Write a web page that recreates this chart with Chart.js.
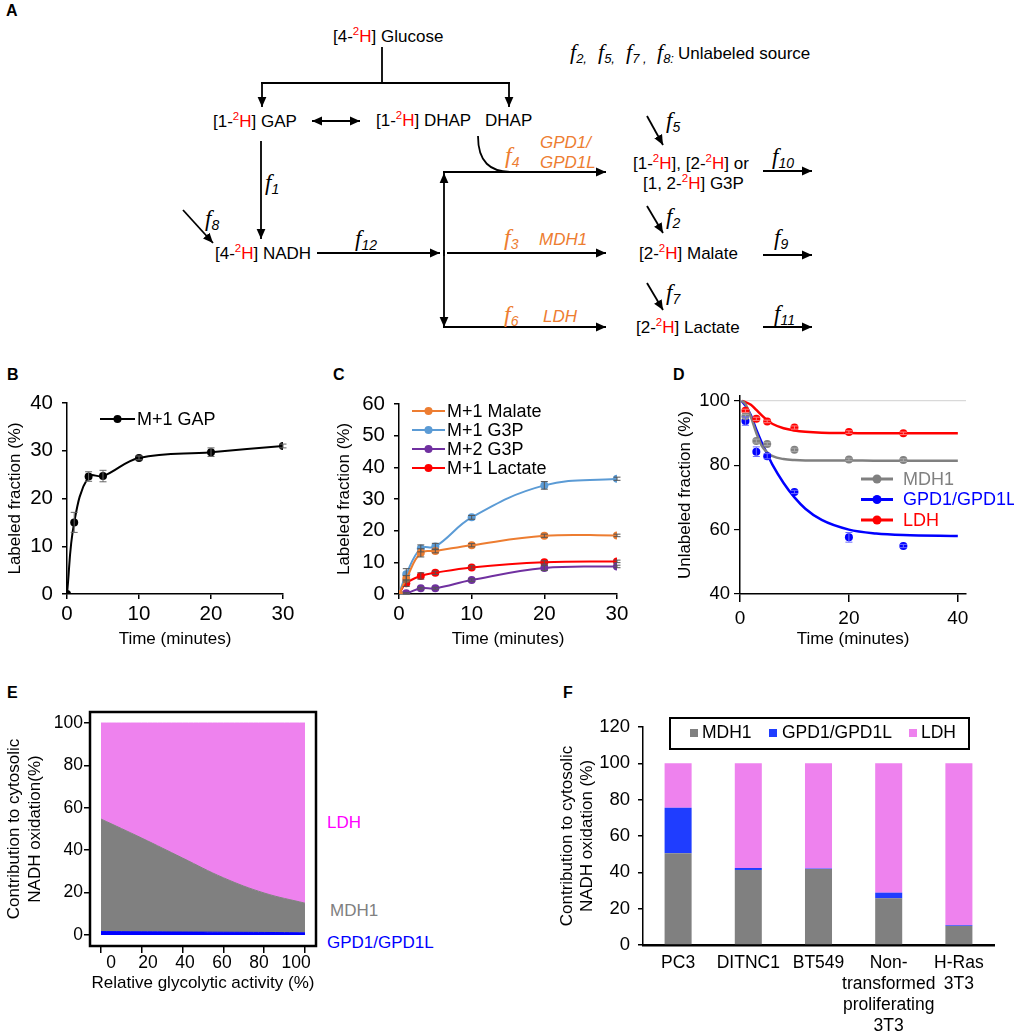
<!DOCTYPE html>
<html><head><meta charset="utf-8">
<script src="https://cdn.jsdelivr.net/npm/chart.js@4.4.1/dist/chart.umd.min.js"></script>
<style>
html,body{margin:0;padding:0;background:#fff;}
#wrap{position:relative;width:1014px;height:1035px;overflow:hidden;background:#fff;}
#wrap svg,#wrap canvas{position:absolute;}
svg text{font-family:'Liberation Sans',Arial,sans-serif;}
.fi{font-family:'Liberation Serif','Times New Roman',serif;font-style:italic;}
</style></head>
<body><div id="wrap">
<svg id="dg" width="1014" height="1035" style="left:0px;top:0px"></svg>
<canvas id="cB" width="330" height="280" style="left:0px;top:380px"></canvas>
<canvas id="cC" width="340" height="280" style="left:330px;top:380px"></canvas>
<canvas id="cD" width="344" height="280" style="left:670px;top:380px"></canvas>
<canvas id="cE" width="330" height="355" style="left:0px;top:680px"></canvas>
<canvas id="cF" width="469" height="355" style="left:545px;top:680px"></canvas>
</div>
<script>
// ---------------- data ----------------
const timeB = [0, 1, 3, 5, 10, 20, 30];
const gapM1 = [0, 15.0, 24.6, 24.7, 28.5, 29.7, 31.0];
const gapErr = [0, 2.1, 1.0, 1.2, 0.4, 0.9, 0.4];

const timeC = [0, 1, 3, 5, 10, 20, 30];
const malateM1 = [0, 4.8, 13.0, 13.6, 15.4, 18.4, 18.5];
const malateErr = [0, 1.0, 1.3, 0.6, 0.5, 0.5, 0.4];
const g3pM1 = [0, 6.2, 14.4, 15.0, 24.2, 34.3, 36.4];
const g3pM1Err = [0, 1.8, 1.1, 1.0, 0.6, 1.2, 0.5];
const g3pM2 = [0, 0.2, 1.8, 1.8, 4.4, 8.2, 8.7];
const g3pM2Err = [0, 0.2, 0.3, 0.3, 0.4, 0.8, 0.4];
const lactateM1 = [0, 3.4, 5.7, 6.7, 8.4, 10.0, 10.3];
const lactateErr = [0, 1.0, 1.0, 0.5, 0.5, 0.5, 0.4];

const timeD = [1, 3, 5, 10, 20, 30];
const mdh1Obs = [95.2, 87.5, 86.6, 84.8, 81.8, 81.6];
const mdh1Err = [0.6, 0.6, 0.5, 0.5, 0.4, 0.4];
const gpdObs = [93.7, 84.2, 82.8, 71.7, 57.6, 54.9];
const gpdErr = [1.3, 1.5, 0.8, 0.5, 1.5, 0.5];
const ldhObs = [96.9, 94.4, 93.6, 91.7, 90.3, 89.9];
const ldhErr = [0.5, 0.5, 0.4, 0.5, 0.4, 0.4];
const fitTime = [0.3, 1, 2, 3, 4, 5, 6, 8, 10, 12, 15, 20, 25, 30, 40];
const mdh1Fit = [100, 99, 95, 90, 86, 84, 82.8, 81.9, 81.6, 81.5, 81.5, 81.5, 81.4, 81.4, 81.4];
const gpdFit = [100, 98.5, 95.5, 91, 87, 83.5, 80, 74.5, 70, 66.5, 63, 60, 58.8, 58.3, 58.0];
const ldhFit = [100, 99.6, 98.8, 97.2, 95.5, 94, 92.8, 91.5, 90.8, 90.4, 90.1, 90.0, 89.9, 89.9, 89.9];
const ticksDy = [40, 60, 80, 100];
const ticksDx = [0, 20, 40];

const activity = [0, 20, 40, 60, 80, 100];
const eGPD = [1.6, 1.5, 1.4, 1.3, 1.2, 1.0];
const eMDH1 = [53.1, 44.2, 34.9, 25.7, 18.6, 14.0];
const eLDH = [45.3, 54.3, 63.7, 73.0, 80.2, 85.0];
const ticksE = [0, 20, 40, 60, 80, 100];

const cellLines = ['PC3', 'DITNC1', 'BT549', ['Non-', 'transformed', 'proliferating', '3T3'], ['H-Ras', '3T3']];
const fMDH1 = [50.5, 41.3, 41.8, 25.7, 10.5];
const fGPD = [25.1, 1.1, 0.3, 3.1, 0.4];
const fLDH = [24.4, 57.6, 57.9, 71.2, 89.1];

// ---------------- diagram (panel A) + text labels ----------------
const S = [];
S.push('<defs><marker id="ah" viewBox="0 0 10 10" refX="10" refY="5" markerWidth="10" markerHeight="10" markerUnits="userSpaceOnUse" orient="auto-start-reverse"><path d="M0,0.6 L10,5 L0,9.4 z" fill="#000"/></marker></defs>');
const ln = (x1,y1,x2,y2,a,b) => S.push(`<line x1="${x1}" y1="${y1}" x2="${x2}" y2="${y2}" stroke="#000" stroke-width="1.8" ${a?'marker-end="url(#ah)"':''} ${b?'marker-start="url(#ah)"':''}/>`);
const H2 = '<tspan fill="#f00" font-size="11.5" dy="-7">2</tspan><tspan fill="#f00" dy="7">H</tspan>';
const tx = (x,y,h,extra='') => S.push(`<text x="${x}" y="${y}" font-size="17" ${extra}>${h}</text>`);
const fl = (x,y,sub,color='#000',size=23) => S.push(`<text x="${x}" y="${y}" fill="${color}"><tspan class="fi" font-size="${size}">f</tspan><tspan font-style="italic" font-size="14" dy="4">${sub}</tspan></text>`);

tx(333, 42, '[4-' + H2 + '] Glucose');
ln(382, 47, 382, 83); ln(261, 83, 510, 83);
ln(262, 83, 262, 107, true); ln(509, 83, 509, 107, true);
tx(213, 127, '[1-' + H2 + '] GAP');
ln(312, 121, 360, 121, true, true);
tx(376, 126, '[1-' + H2 + '] DHAP');
tx(485, 126, 'DHAP');
ln(261, 141, 261, 239, true);
fl(265, 190, '1');
ln(183, 210, 213, 243, true);
fl(205, 226, '8');
tx(215, 259, '[4-' + H2 + '] NADH');
ln(317, 253, 440, 253, true);
fl(355, 246, '12');
ln(444, 256, 444, 173, true);
ln(444, 250, 444, 327, true);
ln(443, 172, 606, 172, true);
ln(447, 253, 606, 253, true);
ln(443, 327, 606, 327, true);
S.push('<path d="M478,136 C478,162 490,172 512,172" fill="none" stroke="#000" stroke-width="1.8"/>');
fl(505, 163, '4', '#ED7D31', 24);
tx(540, 148, 'GPD1/', 'fill="#ED7D31" font-style="italic"');
tx(540, 168, 'GPD1L', 'fill="#ED7D31" font-style="italic"');
fl(504, 245, '3', '#ED7D31', 24);
tx(539, 245, 'MDH1', 'fill="#ED7D31" font-style="italic"');
fl(504, 322, '6', '#ED7D31', 24);
tx(543, 322, 'LDH', 'fill="#ED7D31" font-style="italic"');
ln(647, 116, 663, 145, true); fl(666, 128, '5');
tx(633, 169, '[1-' + H2 + '], [2-' + H2 + '] or');
tx(643, 189, '[1, 2-' + H2 + '] G3P');
ln(763, 171, 812, 171, true); fl(772, 164, '10');
ln(647, 206, 663, 233, true); fl(666, 224, '2');
tx(639, 259, '[2-' + H2 + '] Malate');
ln(763, 255, 812, 255, true); fl(774, 245, '9');
ln(647, 283, 663, 310, true); fl(666, 300, '7');
tx(636, 333, '[2-' + H2 + '] Lactate');
ln(763, 327, 812, 327, true); fl(774, 321, '11');
// header
const hf = (x, sub) => S.push(`<text x="${x}" y="59"><tspan class="fi" font-size="22">f</tspan><tspan font-style="italic" font-size="13" dy="4">${sub}</tspan></text>`);
hf(570, '2,'); hf(598, '5,'); hf(626, '7 ,'); hf(657, '8:');
tx(678, 59, 'Unlabeled source');
// panel letters
const pl = (x,y,t) => S.push(`<text x="${x}" y="${y}" font-size="16" font-weight="bold">${t}</text>`);
pl(6, 16, 'A'); pl(7, 380, 'B'); pl(333, 380, 'C'); pl(673, 380, 'D'); pl(7, 698, 'E'); pl(563, 698, 'F');
// E side labels
tx(327, 828, 'LDH', 'fill="#FF00FF"');
tx(330, 916, 'MDH1', 'fill="#808080"');
tx(327, 948, 'GPD1/GPD1L', 'fill="#0000FF"');
document.getElementById('dg').innerHTML = S.join('');

// ---------------- Chart.js ----------------
const FONT = "'Liberation Sans', Arial, sans-serif";
Chart.defaults.font.family = FONT;
Chart.defaults.color = '#000';
Chart.defaults.animation = false;
const pts = (xs, ys) => xs.map((x, i) => ({x: x, y: ys[i]}));
const base = (pad) => ({responsive: false, animation: false, devicePixelRatio: 1, layout: {padding: pad},
  plugins: {legend: {display: false}, tooltip: {enabled: false}}});

const errorBars = {
  id: 'errorBars',
  afterDatasetsDraw(chart) {
    const ctx = chart.ctx;
    chart.data.datasets.forEach((ds, i) => {
      if (!ds.errors) return;
      const meta = chart.getDatasetMeta(i);
      const ys = chart.scales[meta.yAxisID];
      ctx.save();
      ctx.strokeStyle = ds.errorColor || '#555'; ctx.lineWidth = 1;
      meta.data.forEach((p, j) => {
        const e = ds.errors[j]; if (!e) return;
        const v = ds.data[j].y;
        const y1 = ys.getPixelForValue(v + e), y2 = ys.getPixelForValue(v - e);
        ctx.beginPath();
        ctx.moveTo(p.x, y1); ctx.lineTo(p.x, y2);
        ctx.moveTo(p.x - 3.5, y1); ctx.lineTo(p.x + 3.5, y1);
        ctx.moveTo(p.x - 3.5, y2); ctx.lineTo(p.x + 3.5, y2);
        ctx.stroke();
      });
      ctx.restore();
    });
  }
};
const lineLegend = {
  id: 'lineLegend',
  afterDraw(chart, args, o) {
    if (!o || o.x1 === undefined) return;
    const ctx = chart.ctx; ctx.save();
    chart.data.datasets.filter(d => d.inLegend).forEach((d, i) => {
      const y = o.y + i * o.dy;
      ctx.strokeStyle = d.borderColor; ctx.lineWidth = o.lw;
      ctx.beginPath(); ctx.moveTo(o.x1, y); ctx.lineTo(o.x2, y); ctx.stroke();
      ctx.fillStyle = d.legendDot || d.borderColor;
      ctx.beginPath(); ctx.arc((o.x1 + o.x2) / 2, y, o.r, 0, Math.PI * 2); ctx.fill();
      ctx.font = o.size + 'px ' + FONT;
      ctx.fillStyle = o.colored ? d.borderColor : '#000';
      ctx.textBaseline = 'middle'; ctx.textAlign = 'left';
      ctx.fillText(d.label, o.tx, y + 1);
    });
    ctx.restore();
  }
};
const axisBlack = {color: '#000', width: 1.5};
function timeAxis(max, ticksFont, tl, pad, h, after) {
  const a = {type: 'linear', min: 0, max: max,
    ticks: {stepSize: 10, font: {size: ticksFont}, padding: pad, color: '#000', maxRotation: 0},
    grid: {drawOnChartArea: false, drawTicks: true, tickLength: tl, color: '#000', tickColor: '#000', lineWidth: 1.5},
    border: axisBlack,
    title: {display: true, text: 'Time (minutes)', font: {size: 17}, padding: {top: 0, bottom: 10}, color: '#000'},
    afterFit: s => { s.height = h; }};
  if (after) a.afterBuildTicks = after;
  return a;
}

// ---- B ----
(function(){
  const opts = base({top: 23, right: 47, left: 0, bottom: 0});
  opts.plugins.lineLegend = {x1: 100, x2: 135, tx: 137, y: 39, dy: 19, r: 4, lw: 2, size: 18, colored: false};
  opts.scales = {
    x: timeAxis(30, 20.5, 5, 3, 66),
    y: {min: 0, max: 40, ticks: {stepSize: 10, font: {size: 20.5}, padding: 9, color: '#000'},
      grid: {drawOnChartArea: false, tickLength: 5, color: '#000', tickColor: '#000', lineWidth: 1.5},
      border: axisBlack,
      title: {display: true, text: 'Labeled fraction (%)', font: {size: 17}, padding: {top: 5, bottom: 0}, color: '#000'},
      afterFit: s => { s.width = 67; }}
  };
  new Chart(document.getElementById('cB'), {type: 'line',
    data: {datasets: [{label: 'M+1 GAP', inLegend: true, data: pts(timeB, gapM1), errors: gapErr, errorColor: '#666',
      borderColor: '#000', backgroundColor: '#000', borderWidth: 2, pointRadius: 4, pointBorderWidth: 0, tension: 0.4}]},
    options: opts, plugins: [errorBars, lineLegend]});
})();

// ---- C ----
(function(){
  const opts = base({top: 24, right: 53, left: 0, bottom: 0});
  opts.plugins.lineLegend = {x1: 82, x2: 115, tx: 117, y: 31, dy: 19, r: 4, lw: 2, size: 18, colored: false};
  opts.scales = {
    x: timeAxis(30, 20.5, 5, 3, 66),
    y: {min: 0, max: 60, ticks: {stepSize: 10, font: {size: 20.5}, padding: 9, color: '#000'},
      grid: {drawOnChartArea: false, tickLength: 5, color: '#000', tickColor: '#000', lineWidth: 1.5},
      border: axisBlack,
      title: {display: true, text: 'Labeled fraction (%)', font: {size: 17}, padding: {top: 4, bottom: 0}, color: '#000'},
      afterFit: s => { s.width = 69; }}
  };
  const mk = (label, ys, err, col) => ({label: label, inLegend: true, data: pts(timeC, ys), errors: err, errorColor: '#555',
    borderColor: col, backgroundColor: col, borderWidth: 2, pointRadius: 4, pointBorderWidth: 0, tension: 0.4});
  new Chart(document.getElementById('cC'), {type: 'line',
    data: {datasets: [
      mk('M+1 Malate', malateM1, malateErr, '#ED7D31'),
      mk('M+1 G3P', g3pM1, g3pM1Err, '#5B9BD5'),
      mk('M+2 G3P', g3pM2, g3pM2Err, '#7030A0'),
      mk('M+1 Lactate', lactateM1, lactateErr, '#FF0000')]},
    options: opts, plugins: [errorBars, lineLegend]});
})();

// ---- D ----
(function(){
  const opts = base({top: 16, right: 48, left: 0, bottom: 0});
  opts.plugins.lineLegend = {x1: 191, x2: 223, tx: 233, y: 99, dy: 20.5, r: 4.5, lw: 3, size: 18, colored: true};
  const xa = timeAxis(41.5, 19, 8, 5, 66, s => { s.ticks = ticksDx.map(v => ({value: v})); });
  opts.scales = {
    x: xa,
    y: {min: 40, max: 101.5, ticks: {font: {size: 18.5}, padding: 4, color: '#000'},
      afterBuildTicks: s => { s.ticks = ticksDy.map(v => ({value: v})); },
      grid: {drawOnChartArea: true, tickLength: 6, tickColor: '#000', lineWidth: 1.2,
        color: c => (c.tick && c.tick.value === 100) ? '#d9d9d9' : 'rgba(0,0,0,0)'},
      border: axisBlack,
      title: {display: true, text: 'Unlabeled fraction (%)', font: {size: 17}, padding: {top: 5, bottom: 0}, color: '#000'},
      afterFit: s => { s.width = 70; }}
  };
  const fit = (label, ys, col) => ({label: label, inLegend: true, data: pts(fitTime, ys), borderColor: col, backgroundColor: col,
    borderWidth: 2.5, pointRadius: 0, cubicInterpolationMode: 'monotone', order: 2});
  const obs = (label, ys, err, col, ecol) => ({label: label, data: pts(timeD, ys), errors: err, errorColor: ecol, showLine: false,
    borderColor: col, backgroundColor: col, pointRadius: 4, pointBorderWidth: 0, order: 1});
  new Chart(document.getElementById('cD'), {type: 'line',
    data: {datasets: [
      fit('MDH1', mdh1Fit, '#808080'),
      fit('GPD1/GPD1L', gpdFit, '#0000FF'),
      fit('LDH', ldhFit, '#FF0000'),
      obs('MDH1 data', mdh1Obs, mdh1Err, '#808080', '#aaaaaa'),
      obs('GPD1/GPD1L data', gpdObs, gpdErr, '#0000FF', '#6b6bff'),
      obs('LDH data', ldhObs, ldhErr, '#FF0000', '#ff8080')]},
    options: opts, plugins: [errorBars, lineLegend]});
})();

// ---- E ----
(function(){
  const frame = {id: 'frame', afterDatasetsDraw(chart) {
    const a = chart.chartArea, ctx = chart.ctx;
    ctx.save(); ctx.strokeStyle = '#000'; ctx.lineWidth = 2.5;
    ctx.strokeRect(a.left, a.top, a.right - a.left, a.bottom - a.top); ctx.restore(); }};
  const opts = base({top: 32, right: 14, left: 0, bottom: 0});
  const setT = s => { s.ticks = ticksE.map(v => ({value: v})); };
  opts.scales = {
    x: {type: 'linear', min: -5.4, max: 105.4, weight: 0, afterBuildTicks: setT,
      ticks: {display: false},
      grid: {drawOnChartArea: false, drawTicks: true, tickLength: 7, color: '#000', tickColor: '#000', lineWidth: 1.5},
      border: {display: false}, afterFit: s => { s.height = 7; }},
    x2: {type: 'linear', position: 'bottom', min: -11.35, max: 110.8, weight: 1, afterBuildTicks: setT,
      ticks: {font: {size: 17.5}, padding: 0, color: '#000', maxRotation: 0},
      grid: {display: false, drawTicks: false}, border: {display: false},
      title: {display: true, text: 'Relative glycolytic activity (%)', font: {size: 17}, padding: {top: 0, bottom: 41}, color: '#000'},
      afterFit: s => { s.height = 82; }},
    y: {stacked: true, min: -5.2, max: 105.2, afterBuildTicks: setT,
      ticks: {font: {size: 17.5}, padding: 1, color: '#000'},
      grid: {drawOnChartArea: false, tickLength: 6, color: '#000', tickColor: '#000', lineWidth: 1.5},
      border: {display: false},
      title: {display: true, text: ['Contribution to cytosolic', 'NADH oxidation(%)'], font: {size: 17, lineHeight: 1.25}, padding: {top: 3.4, bottom: 0}, color: '#000'},
      afterFit: s => { s.width = 90; }}
  };
  const ar = (label, ys, col, fill) => ({label: label, data: pts(activity, ys), backgroundColor: col, borderColor: col,
    borderWidth: 1, pointRadius: 0, fill: fill, tension: 0.4});
  new Chart(document.getElementById('cE'), {type: 'line',
    data: {datasets: [ar('GPD1/GPD1L', eGPD, '#0000FF', 'origin'), ar('MDH1', eMDH1, '#808080', '-1'), ar('LDH', eLDH, '#EE82EE', '-1')]},
    options: opts, plugins: [frame]});
})();

// ---- F ----
(function(){
  const boxLegend = {id: 'boxLegend', afterDraw(chart) {
    const ctx = chart.ctx; ctx.save();
    ctx.strokeStyle = '#000'; ctx.lineWidth = 2;
    ctx.strokeRect(125, 38, 299, 31);
    const xs = [[145, 157], [224, 237], [364, 376]];
    ctx.font = '17.5px ' + FONT; ctx.textBaseline = 'middle'; ctx.textAlign = 'left';
    chart.data.datasets.forEach((d, i) => {
      ctx.fillStyle = d.backgroundColor; ctx.fillRect(xs[i][0], 49, 8, 8);
      ctx.fillStyle = '#000'; ctx.fillText(d.label, xs[i][1], 53);
    });
    ctx.restore(); }};
  const opts = base({top: 47, right: 20, left: 0, bottom: 0});
  opts.scales = {
    x: {stacked: true, ticks: {font: {size: 17.5, lineHeight: 1.2}, padding: 7.6, color: '#000', maxRotation: 0, minRotation: 0, autoSkip: false},
      grid: {display: false, drawTicks: false}, border: {color: '#000', width: 2.5},
      afterFit: s => { s.height = 90; }},
    y: {stacked: true, min: 0, max: 120, ticks: {stepSize: 20, font: {size: 18.5}, padding: 8, color: '#000'},
      grid: {drawOnChartArea: false, tickLength: 5, color: '#000', tickColor: '#000', lineWidth: 1.5},
      border: axisBlack,
      title: {display: true, text: ['Contribution to cytosolic', 'NADH oxidation (%)'], font: {size: 17, lineHeight: 1.2}, padding: {top: 12, bottom: 0}, color: '#000'},
      afterFit: s => { s.width = 98; }}
  };
  const bs = (label, ys, col) => ({label: label, data: ys, backgroundColor: col, borderWidth: 0, categoryPercentage: 1, barPercentage: 0.385});
  new Chart(document.getElementById('cF'), {type: 'bar',
    data: {labels: cellLines, datasets: [bs('MDH1', fMDH1, '#808080'), bs('GPD1/GPD1L', fGPD, '#1F3DFF'), bs('LDH', fLDH, '#EE82EE')]},
    options: opts, plugins: [boxLegend]});
})();
</script>
</body></html>
